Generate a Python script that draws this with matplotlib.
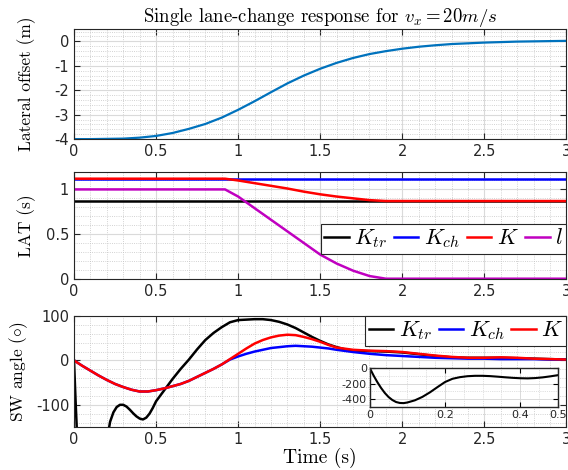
import matplotlib
matplotlib.use("Agg")
import matplotlib.pyplot as plt
from matplotlib.ticker import AutoMinorLocator, MultipleLocator

plt.rcParams["mathtext.fontset"] = "cm"
plt.rcParams["axes.unicode_minus"] = False
plt.rcParams["font.family"] = ["DejaVu Sans"]

# lateral offset (m)
t_off = [0.0, 0.1, 0.2, 0.3, 0.4, 0.5, 0.6, 0.7, 0.8, 0.9, 1.0, 1.1, 1.2, 1.3, 1.4, 1.5,
         1.6, 1.7, 1.8, 1.9, 2.0, 2.1, 2.2, 2.3, 2.4, 2.5, 2.6, 2.7, 2.8, 2.9, 3.0]
offset = [-4.00, -4.00, -3.99, -3.98, -3.94, -3.87, -3.75, -3.58, -3.38, -3.12, -2.80,
          -2.45, -2.08, -1.72, -1.40, -1.12, -0.88, -0.68, -0.52, -0.40, -0.30, -0.22,
          -0.16, -0.11, -0.08, -0.05, -0.03, -0.01, 0.00, 0.01, 0.02]

# look-ahead time (s)
t_const = [0.0, 3.0]
lat_ktr = [0.87, 0.87]
lat_kch = [1.12, 1.12]
t_lat = [0.0, 0.92, 1.0, 1.1, 1.2, 1.3, 1.4, 1.5, 1.6, 1.7, 1.8, 1.9, 3.0]
lat_k = [1.12, 1.12, 1.10, 1.07, 1.04, 1.01, 0.975, 0.945, 0.92, 0.90, 0.88, 0.87, 0.87]
lat_l = [1.0, 1.0, 0.92, 0.79, 0.66, 0.53, 0.40, 0.27, 0.17, 0.09, 0.03, 0.0, 0.0]

# steering wheel angle (deg)
t_tr = [0.0, 0.01, 0.02, 0.03, 0.04, 0.05, 0.06, 0.07, 0.08, 0.09, 0.10,
        0.12, 0.14, 0.16, 0.18, 0.20, 0.22, 0.24, 0.26, 0.28, 0.30, 0.32, 0.34, 0.36,
        0.38, 0.40, 0.42, 0.44, 0.46, 0.48, 0.50,
        0.55, 0.60, 0.65, 0.70, 0.75, 0.80, 0.85, 0.90, 0.95, 1.00, 1.05, 1.10, 1.15,
        1.20, 1.25, 1.30, 1.35, 1.40, 1.45, 1.50, 1.55, 1.60, 1.65, 1.70,
        1.8, 1.9, 2.0, 2.1, 2.2, 2.3, 2.4, 2.5, 2.6, 2.7, 2.8, 2.9, 3.0]
sw_ktr = [0, -95, -180, -255, -320, -372, -410, -436, -448, -450, -442,
          -414, -370, -312, -245, -180, -138, -117, -105, -100, -100, -104, -111, -119,
          -126, -131, -133, -129, -120, -107, -92,
          -67, -42, -19, 2, 25, 46, 62, 75, 86, 91, 92, 93, 93,
          91, 87, 81, 73, 63, 53, 44, 36, 30, 25, 22,
          21, 20, 18, 14, 10, 7, 6, 6, 6, 5, 4, 3, 2]
t_sw = [0.0, 0.05, 0.10, 0.15, 0.20, 0.25, 0.30, 0.35, 0.40, 0.45, 0.50, 0.55, 0.60,
        0.65, 0.70, 0.75, 0.80, 0.85, 0.90, 0.95, 1.00, 1.05, 1.10, 1.15, 1.20, 1.25,
        1.30, 1.35, 1.40, 1.45, 1.50, 1.55, 1.60,
        1.7, 1.8, 1.9, 2.0, 2.1, 2.2, 2.3, 2.4, 2.5, 2.6, 2.7, 2.8, 2.9, 3.0]
sw_kch = [0, -12, -23, -34, -44, -53, -60, -66, -70, -70, -67, -63, -58,
          -53, -46, -37, -28, -19, -9, 2, 9, 15, 20, 24, 28, 30,
          32, 33, 32, 31, 29, 27, 24,
          19, 15, 12, 10, 8, 6, 5, 4, 4, 3, 3, 3, 2, 2]
sw_k = [0, -12, -23, -34, -44, -53, -60, -66, -70, -70, -67, -63, -58,
        -53, -46, -37, -28, -19, -9, 3, 15, 27, 38, 46, 52, 56,
        58, 57, 53, 48, 42, 35, 29,
        24, 22, 21, 19, 15, 11, 8, 6, 6, 7, 6, 4, 3, 2]

xticks = [0, 0.5, 1, 1.5, 2, 2.5, 3]
label_font = dict(family="cmr10", fontsize=12.5)
legend_kw = dict(borderaxespad=0, fontsize=16, handlelength=1.1, handletextpad=0.25,
                 columnspacing=0.3, borderpad=0.15, fancybox=False,
                 edgecolor="#262626", framealpha=1)


def style(ax):
    ax.set_xlim(0, 3)
    ax.set_xticks(xticks)
    ax.set_xticklabels(["0", "0.5", "1", "1.5", "2", "2.5", "3"])
    ax.xaxis.set_minor_locator(AutoMinorLocator(5))
    ax.yaxis.set_minor_locator(AutoMinorLocator(5))
    ax.grid(which="major", color="#dadada", lw=0.8)
    ax.grid(which="minor", color="#c4c4c4", lw=0.6, ls=":")
    ax.set_axisbelow(True)
    ax.tick_params(which="both", direction="in", top=True, right=True, labelsize=10.5,
                   color="#262626", labelcolor="#262626")
    ax.tick_params(which="major", length=4)
    ax.tick_params(which="minor", length=0)
    for s in ax.spines.values():
        s.set_color("#262626")
        s.set_linewidth(0.8)


fig = plt.figure(figsize=(5.68, 4.70), dpi=100)
ax1 = fig.add_axes([0.1303, 0.704, 0.867, 0.234])
ax2 = fig.add_axes([0.1303, 0.407, 0.867, 0.228])
ax3 = fig.add_axes([0.1303, 0.0915, 0.867, 0.236])

ax1.plot(t_off, offset, color="#0072BD", lw=1.6)
style(ax1)
ax1.set_ylim(-4, 0.5)
ax1.set_yticks([-4, -3, -2, -1, 0])
ax1.set_ylabel("Lateral offset (m)", **label_font)
ax1.yaxis.set_label_coords(-0.077, 0.5)
ax1.set_title(r"Single lane-change response for $v_x = 20m/s$", pad=4,
              family="cmr10", fontsize=13.5)

ax2.plot(t_const, lat_ktr, color="k", lw=1.8, label=r"$K_{tr}$")
ax2.plot(t_const, lat_kch, color="b", lw=1.8, label=r"$K_{ch}$")
ax2.plot(t_lat, lat_k, color="r", lw=1.8, label=r"$K$")
ax2.plot(t_lat, lat_l, color="#C000C0", lw=1.8, label=r"$l$")
style(ax2)
ax2.set_ylim(0, 1.2)
ax2.set_yticks([0, 0.5, 1])
ax2.set_yticklabels(["0", "0.5", "1"])
ax2.set_ylabel("LAT (s)", **label_font)
ax2.yaxis.set_label_coords(-0.077, 0.5)
leg2 = ax2.legend(ncol=4, loc="lower right", bbox_to_anchor=(1.0, 0.235), **legend_kw)
leg2.get_frame().set_linewidth(0.8)

ax3.plot(t_tr, sw_ktr, color="k", lw=1.8, label=r"$K_{tr}$")
ax3.plot(t_sw, sw_kch, color="b", lw=1.8, label=r"$K_{ch}$")
ax3.plot(t_sw, sw_k, color="r", lw=1.8, label=r"$K$")
style(ax3)
ax3.set_ylim(-150, 100)
ax3.set_yticks([-100, 0, 100])
ax3.set_ylabel(r"SW angle ($\circ$)", **label_font)
ax3.yaxis.set_label_coords(-0.089, 0.5)
ax3.set_xlabel("Time (s)", labelpad=1, family="cmr10", fontsize=14)
leg3 = ax3.legend(ncol=3, loc="upper right", **legend_kw)
leg3.get_frame().set_linewidth(0.8)

# inset: full K_tr steering transient
axi = fig.add_axes([0.651, 0.134, 0.331, 0.083])
axi.plot(t_tr, sw_ktr, color="k", lw=1.5)
axi.set_xlim(0, 0.5)
axi.set_ylim(-500, 0)
axi.set_xticks([0, 0.2, 0.4, 0.5])
axi.set_xticklabels(["0", "0.2", "0.4", "0.5"])
axi.set_yticks([-400, -200, 0])
axi.xaxis.set_minor_locator(MultipleLocator(0.05))
axi.yaxis.set_minor_locator(MultipleLocator(100))
axi.grid(which="major", color="#dadada", lw=0.7)
axi.grid(which="minor", color="#c4c4c4", lw=0.5, ls=":")
axi.set_axisbelow(True)
axi.tick_params(which="both", direction="in", top=True, right=True, labelsize=8, pad=2,
                labelcolor="#262626")
axi.tick_params(which="minor", length=0)
for s in axi.spines.values():
    s.set_color("#262626")
    s.set_linewidth(1.0)

fig.savefig("out.png", dpi=100)
